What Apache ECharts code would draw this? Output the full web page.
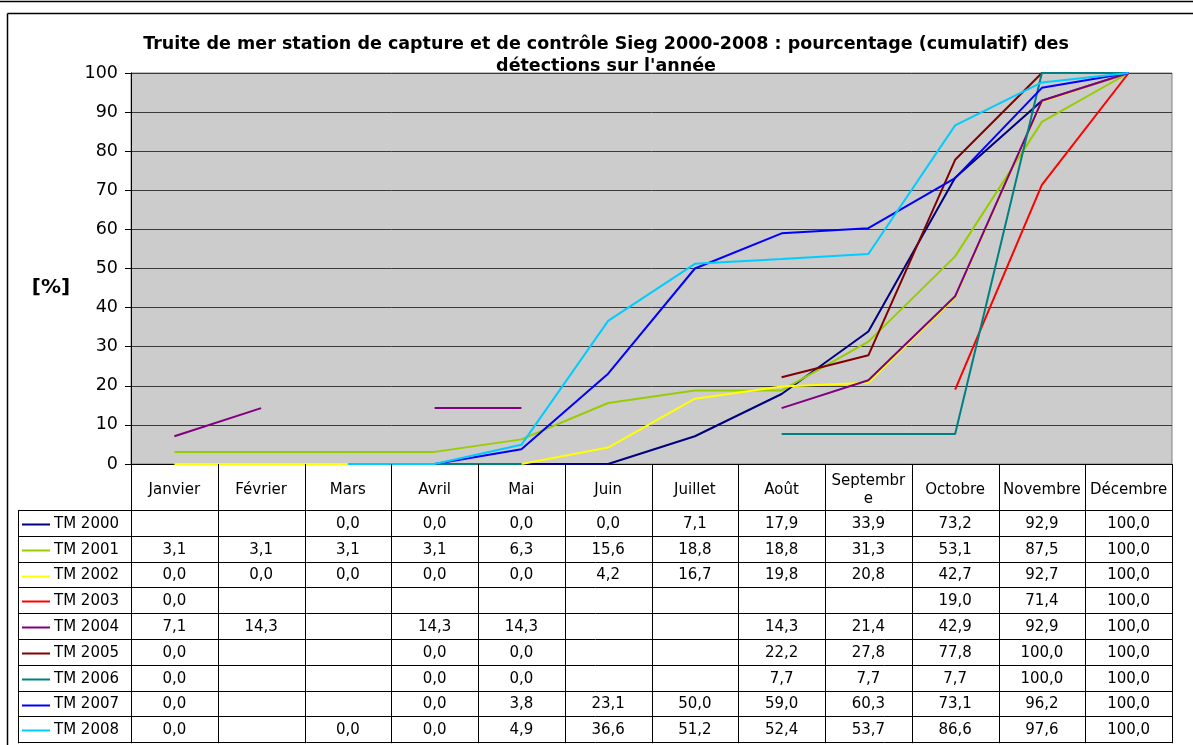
<!DOCTYPE html>
<html>
<head>
<meta charset="utf-8">
<script src="https://cdn.jsdelivr.net/npm/echarts@6/dist/echarts.min.js"></script>
<style>
  html, body { margin: 0; padding: 0; background: #fff; }
  #chart { width: 1193px; height: 745px; }
</style>
</head>
<body>
<div id="chart"></div>
<script>
const months = ['Janvier', 'Février', 'Mars', 'Avril', 'Mai', 'Juin', 'Juillet', 'Août', 'Septembre', 'Octobre', 'Novembre', 'Décembre']
const monthLabels = ['Janvier', 'Février', 'Mars', 'Avril', 'Mai', 'Juin', 'Juillet', 'Août', 'Septembr\ne', 'Octobre', 'Novembre', 'Décembre']
const yTicks = [0, 100, 10]

const seriesNames = ['TM 2000', 'TM 2001', 'TM 2002', 'TM 2003', 'TM 2004', 'TM 2005', 'TM 2006', 'TM 2007', 'TM 2008']
const seriesColors = ['#000080', '#99cc00', '#ffff00', '#ff0000', '#800080', '#800000', '#008080', '#0000ff', '#00ccff']

const tm2000 = [null, null, 0, 0, 0, 0, 7.1, 17.9, 33.9, 73.2, 92.9, 100]
const tm2001 = [3.1, 3.1, 3.1, 3.1, 6.3, 15.6, 18.8, 18.8, 31.3, 53.1, 87.5, 100]
const tm2002 = [0, 0, 0, 0, 0, 4.2, 16.7, 19.8, 20.8, 42.7, 92.7, 100]
const tm2003 = [0, null, null, null, null, null, null, null, null, 19.0, 71.4, 100]
const tm2004 = [7.1, 14.3, null, 14.3, 14.3, null, null, 14.3, 21.4, 42.9, 92.9, 100]
const tm2005 = [0, null, null, 0, 0, null, null, 22.2, 27.8, 77.8, 100, 100]
const tm2006 = [0, null, null, 0, 0, null, null, 7.7, 7.7, 7.7, 100, 100]
const tm2007 = [0, null, null, 0, 3.8, 23.1, 50.0, 59.0, 60.3, 73.1, 96.2, 100]
const tm2008 = [0, null, 0, 0, 4.9, 36.6, 51.2, 52.4, 53.7, 86.6, 97.6, 100]
const seriesValues = [tm2000, tm2001, tm2002, tm2003, tm2004, tm2005, tm2006, tm2007, tm2008]

const titleText = 'Truite de mer station de capture et de contrôle Sieg 2000-2008 : pourcentage (cumulatif) des\ndétections sur l\'année'

// layout
const FONT = '"DejaVu Sans", Verdana, sans-serif'
const gridLeft = 131
const gridRight = 1172
const gridTop = 73
const gridBottom = 464
const headerBottom = 511
const rowHeight = 25.8
const tableLeft = 18

const chart = echarts.init(document.getElementById('chart'))

chart.setOption({
  animation: false,
  textStyle: { fontFamily: FONT },
  grid: {
    left: gridLeft,
    right: 1193 - gridRight,
    top: gridTop,
    bottom: 745 - gridBottom,
    show: true,
    backgroundColor: '#cccccc',
    borderColor: '#808080',
    borderWidth: 1
  },
  xAxis: {
    type: 'category',
    data: monthLabels,
    boundaryGap: true,
    axisLine: { lineStyle: { color: '#000', width: 1 } },
    axisTick: { show: false },
    axisLabel: {
      interval: 0,
      margin: 26,
      verticalAlign: 'middle',
      color: '#000',
      fontSize: 15,
      lineHeight: 18,
      fontFamily: FONT
    },
    splitLine: { show: false }
  },
  yAxis: {
    type: 'value',
    min: yTicks[0],
    max: yTicks[1],
    interval: yTicks[2],
    axisLine: { show: true, lineStyle: { color: '#000', width: 1 } },
    axisTick: { show: true, length: 6, lineStyle: { color: '#000' } },
    axisLabel: { color: '#000', fontSize: 17.5, margin: 13, fontFamily: FONT },
    splitLine: { lineStyle: { color: '#3a3a3a', width: 1 } }
  },
  series: seriesNames.map((name, i) => ({
    name,
    type: 'line',
    data: seriesValues[i],
    showSymbol: false,
    connectNulls: false,
    lineStyle: { color: seriesColors[i], width: 2 },
    itemStyle: { color: seriesColors[i] },
    z: 2 + i
  }))
})

function fmt(v) {
  return v === null ? '' : v.toFixed(1).replace('.', ',')
}

function buildGraphics() {
  const els = []
  const line = (x1, y1, x2, y2, color, w) => els.push({
    type: 'line',
    silent: true,
    shape: { x1, y1, x2, y2 },
    style: { stroke: color || '#000', lineWidth: w || 1 },
    z: 50
  })
  const text = (x, y, str, opts) => els.push({
    type: 'text',
    silent: true,
    x, y,
    style: Object.assign({
      text: str,
      fontSize: 15,
      fontFamily: FONT,
      fill: '#000',
      align: 'center',
      verticalAlign: 'middle'
    }, opts || {}),
    z: 60
  })

  // outer frames
  line(0, 1.5, 1193, 1.5, '#000', 1.5)
  line(7.5, 13.5, 1193, 13.5, '#000', 1.5)
  line(7.5, 13.5, 7.5, 745, '#000', 1.5)

  // title and axis name
  text(606, 55, titleText, { fontSize: 17.5, fontWeight: 'bold', lineHeight: 22 })
  text(51, 288, '[%]', { fontSize: 20, fontWeight: 'bold' })

  // column boundaries from the category axis
  const colW = (chart.convertToPixel({ xAxisIndex: 0 }, 1) - chart.convertToPixel({ xAxisIndex: 0 }, 0))
  const tableBottom = headerBottom + rowHeight * seriesNames.length
  for (let c = 0; c <= months.length; c++) {
    const x = Math.round(chart.convertToPixel({ xAxisIndex: 0 }, 0) - colW / 2 + c * colW) + 0.5
    line(x, gridBottom, x, tableBottom)
  }
  line(tableLeft + 0.5, headerBottom, tableLeft + 0.5, tableBottom)
  for (let r = 0; r <= seriesNames.length; r++) {
    const y = Math.round(headerBottom + r * rowHeight) - 0.5
    line(tableLeft, y, gridRight + 1, y)
  }

  // rows
  seriesNames.forEach((name, r) => {
    const cy = headerBottom + r * rowHeight + rowHeight / 2
    line(22, Math.round(cy) + 0.5, 50, Math.round(cy) + 0.5, seriesColors[r], 2)
    text(54, cy, name, { align: 'left' })
    seriesValues[r].forEach((v, c) => {
      if (v === null) return
      const cx = chart.convertToPixel({ xAxisIndex: 0 }, c)
      text(cx, cy, fmt(v))
    })
  })
  return els
}

chart.setOption({ graphic: buildGraphics() })
</script>
</body>
</html>
